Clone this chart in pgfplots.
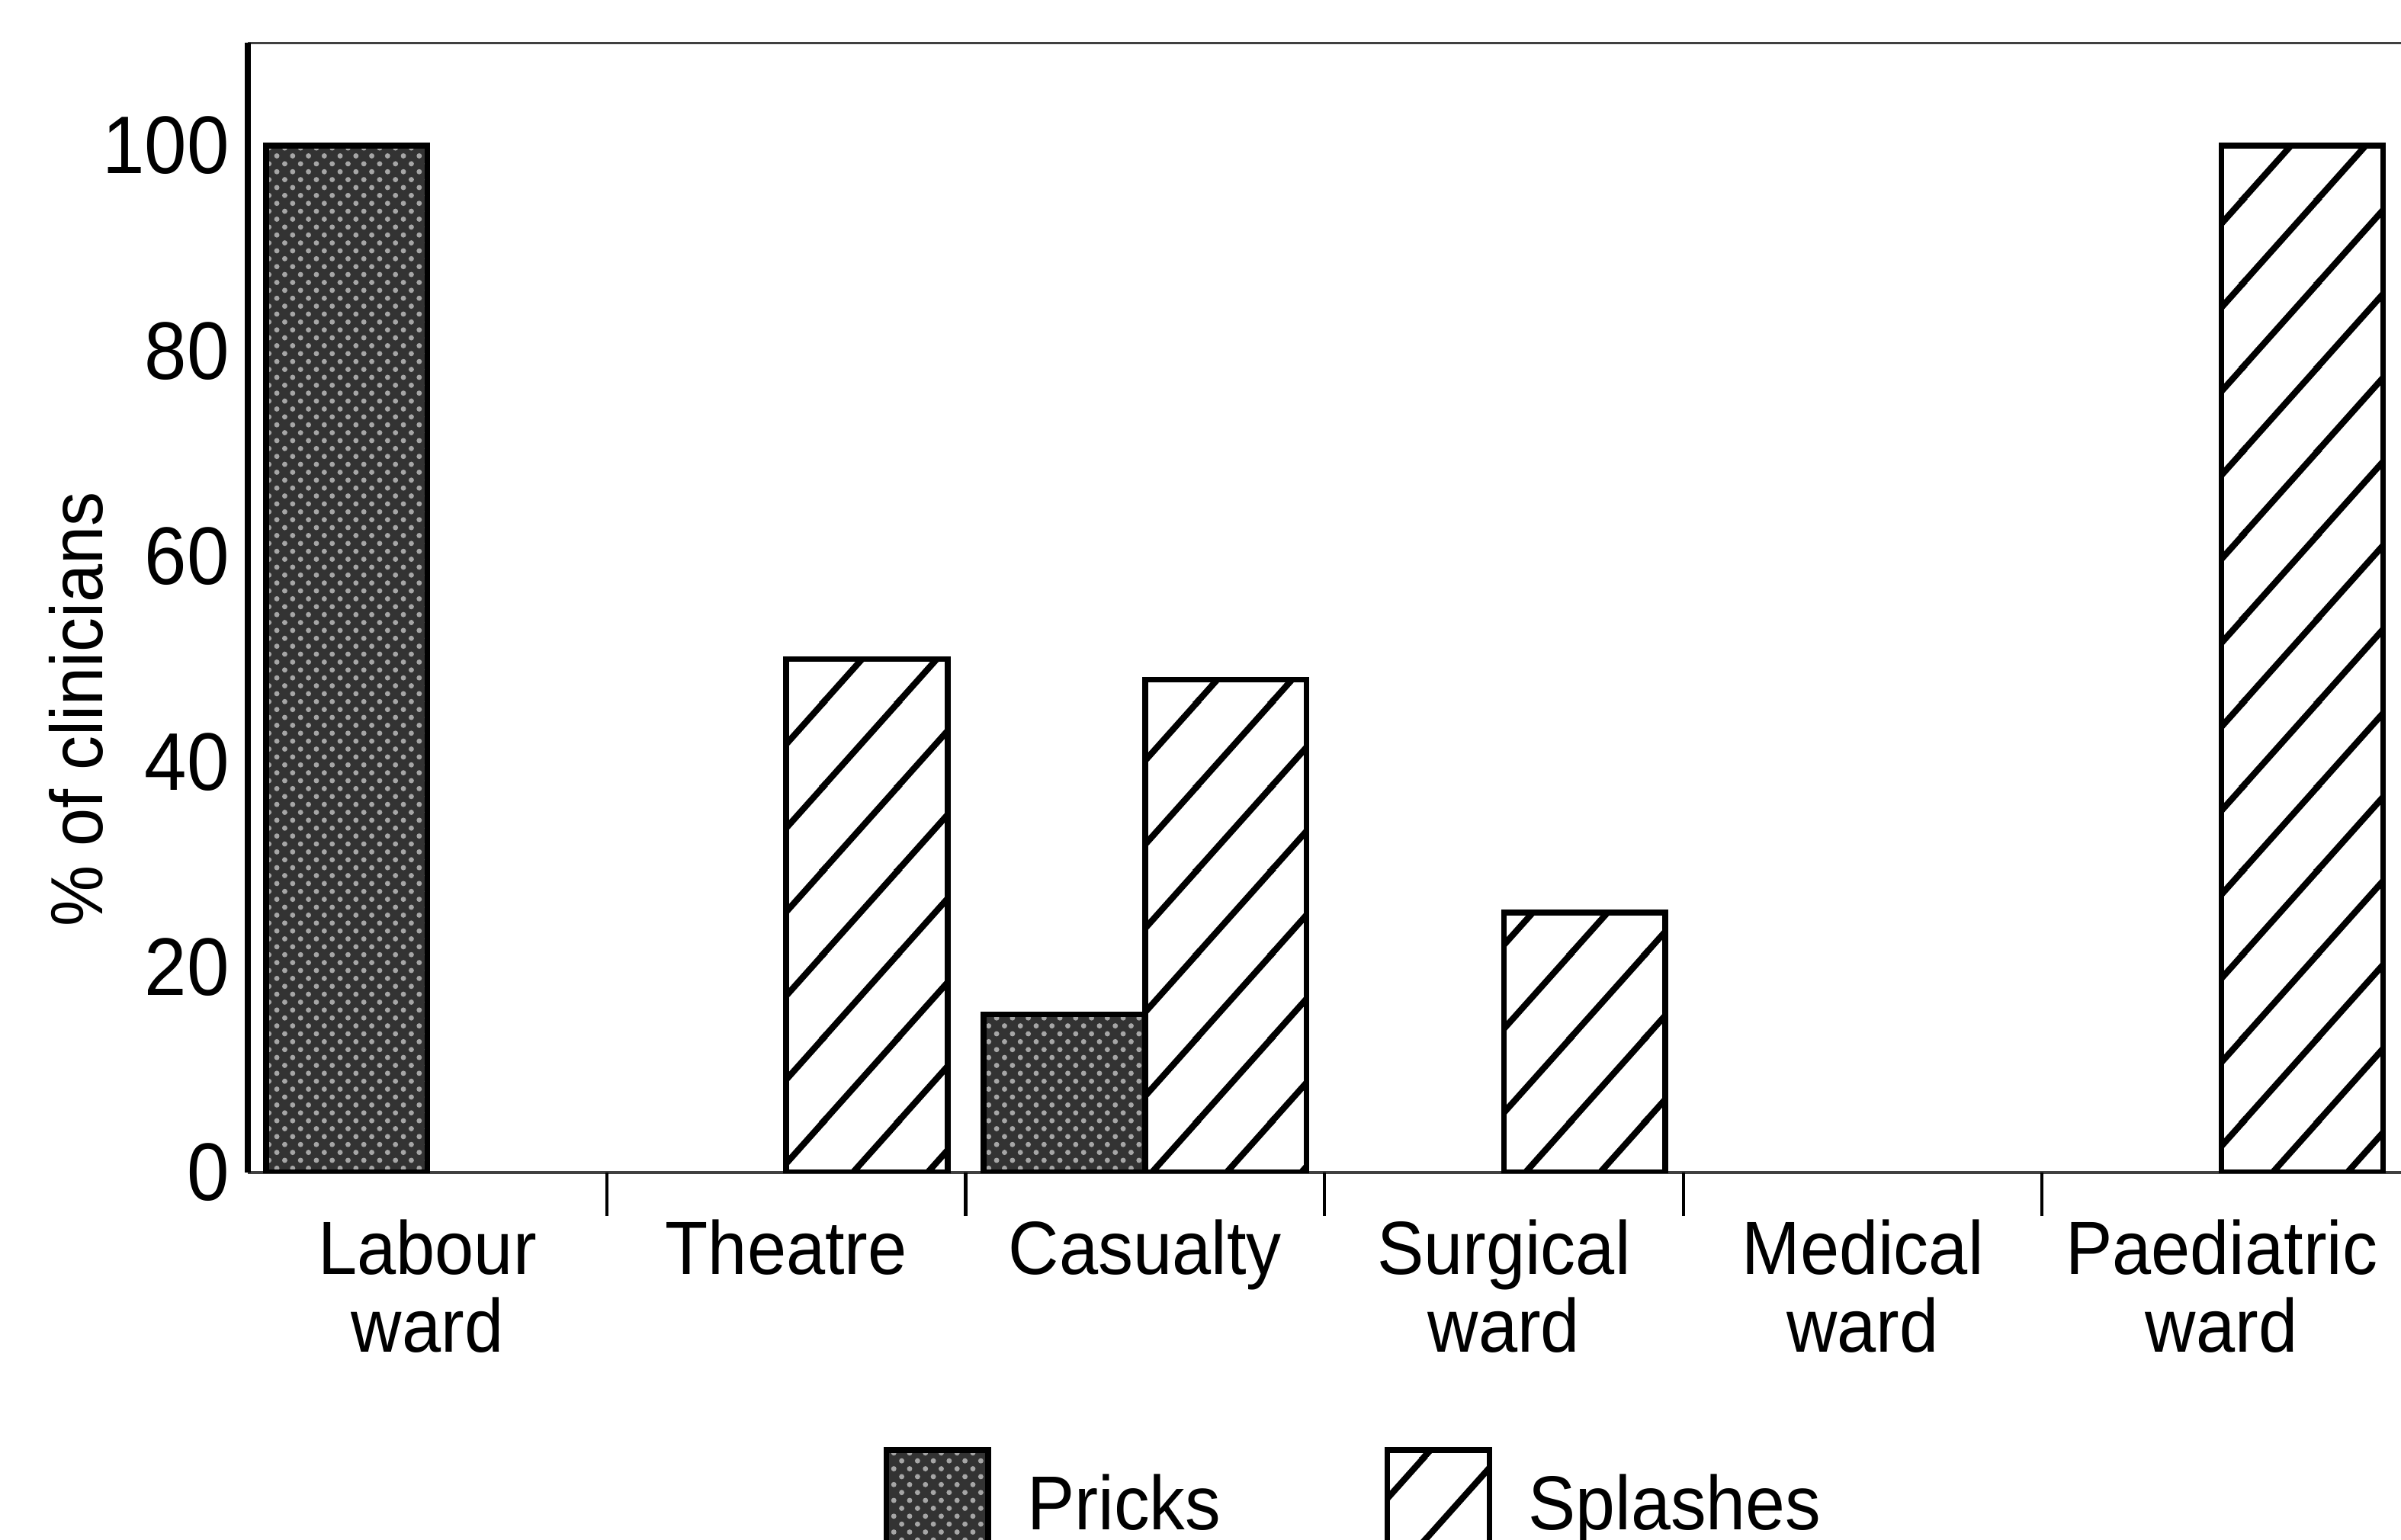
\documentclass[border=0pt]{standalone}
\usepackage{fontspec}
\setmainfont{Liberation Sans}[FakeStretch=0.93]
\usepackage{pgfplots}
\pgfplotsset{compat=1.18}
\usetikzlibrary{patterns,patterns.meta}

% wide diagonal hatch for the Splashes bars
\tikzdeclarepattern{
  name=splash,
  type=uncolored,
  bounding box={(0cm,0cm) and (0.5cm,0.56cm)},
  tile size={(0.5cm,0.56cm)},
  code={
    \draw[line width=1.2pt] (-0.05cm,-0.056cm) -- (0.55cm,0.616cm);
    \draw[line width=1.2pt] (-0.55cm,-0.056cm) -- (0.05cm,0.616cm);
    \draw[line width=1.2pt] (0.45cm,-0.056cm) -- (1.05cm,0.616cm);
  }
}
\pgfplotsset{
  legbox/.style={legend image code/.code={\draw[##1] (0cm,-0.3cm) rectangle (0.68cm,0.37cm);}},
}

\begin{document}
\begin{tikzpicture}
\begin{axis}[
  scale only axis, width=14.35cm, height=7.53cm,
  xmin=-0.5, xmax=5.5, ymin=0, ymax=110,
  separate axis lines,
  axis x line*=box, axis y line*=left,
  x axis line style={line width=0.5pt, black!75},
  y axis line style={line width=1.1pt},
  ybar=0pt, bar width=0.45,
  xtick={0,...,5},
  xticklabels={{Labour\\ward},Theatre,Casualty,{Surgical\\ward},{Medical\\ward},{Paediatric\\ward}},
  ytick={0,20,...,100},
  major tick length=0pt,
  tick pos=left,
  extra x ticks={0.5,1.5,2.5,3.5,4.5},
  extra x tick labels={},
  extra x tick style={major tick length=0.29cm, tick style={line width=0.6pt, black}},
  /pgf/number format/assume math mode=true,
  yticklabel style={font=\fontsize{15.5}{15.5}\selectfont},
  xticklabel style={font=\fontsize{14.3}{14.8}\selectfont, align=center, yshift=-0.19cm},
  ylabel={\% of clinicians},
  ylabel style={font=\fontsize{14}{14}\selectfont, at={(axis description cs:-0.0797,0.41)}, anchor=center},
  legend columns=2,
  legend cell align=left,
  legend style={draw=none, fill=none, at={(axis description cs:0.5153,-0.233)}, anchor=north,
    font=\fontsize{14.5}{14.5}\selectfont,
    /tikz/every odd column/.append style={column sep=0.17cm},
    /tikz/every even column/.append style={column sep=1.02cm}},
]
\addplot[draw=black, line width=1.1pt, fill=black!80,
  postaction={pattern=crosshatch dots, pattern color=black!35},
  y filter/.expression={y==0 ? nan : y}, legbox]
  coordinates {(0,100) (1,0) (2,15.4) (3,0) (4,0) (5,0)};
\addlegendentry{Pricks}
\addplot[draw=black, line width=1.1pt, fill=white,
  postaction={pattern=splash, pattern color=black},
  y filter/.expression={y==0 ? nan : y}, legbox]
  coordinates {(0,0) (1,50) (2,48) (3,25.3) (4,0) (5,100)};
\addlegendentry{Splashes}
\end{axis}
\pgfresetboundingbox
\path (-1.653,-2.449) rectangle (14.35,7.816);
\end{tikzpicture}
\end{document}
